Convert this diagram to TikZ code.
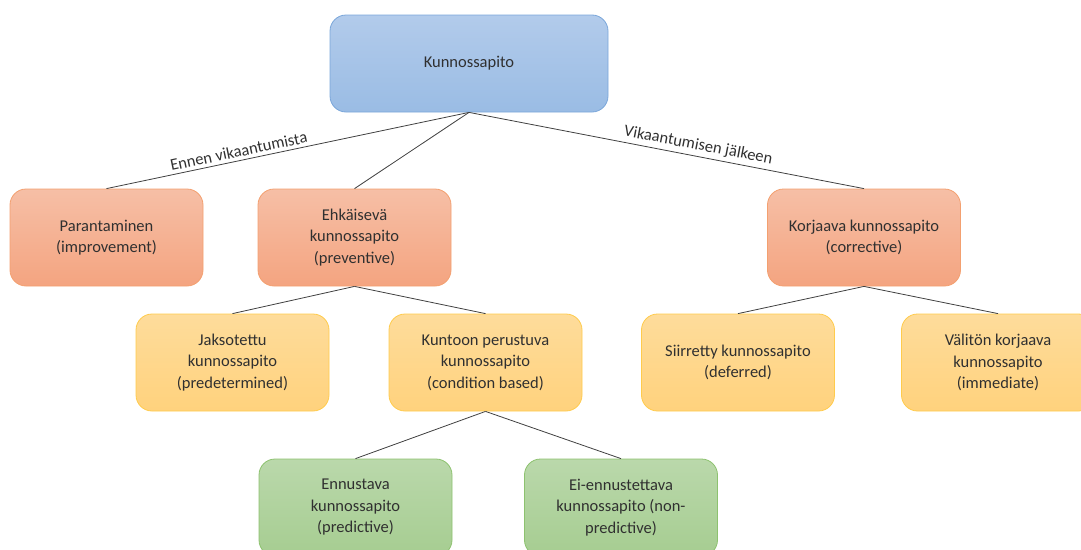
\documentclass[tikz,border=0pt]{standalone}
\usepackage{fontspec}
\setmainfont{Carlito}
\begin{document}
\definecolor{txt}{HTML}{303030}
\definecolor{lnc}{HTML}{404040}
\definecolor{blueT}{HTML}{B2CBEB}\definecolor{blueB}{HTML}{9ABCE4}\definecolor{blueD}{HTML}{7AA6DA}
\definecolor{oraT}{HTML}{F6BFA6}\definecolor{oraB}{HTML}{F4A480}\definecolor{oraD}{HTML}{F3A070}
\definecolor{yelT}{HTML}{FEDC9B}\definecolor{yelB}{HTML}{FFD27D}\definecolor{yelD}{HTML}{FFCB4C}
\definecolor{grnT}{HTML}{BAD8AB}\definecolor{grnB}{HTML}{A6CD91}\definecolor{grnD}{HTML}{8DC26F}
\begin{tikzpicture}[x=1pt,y=-1pt,
  every node/.style={font=\fontsize{16.5}{21.5}\selectfont, text=txt},
  box/.style={rounded corners=16pt, minimum width=193pt, minimum height=97pt,
    align=center, line width=0.8pt, inner sep=0pt},
  bluebox/.style={box, top color=blueT, bottom color=blueB, draw=blueD},
  orabox/.style={box, top color=oraT, bottom color=oraB, draw=oraD},
  yelbox/.style={box, top color=yelT, bottom color=yelB, draw=yelD},
  grnbox/.style={box, top color=grnT, bottom color=grnB, draw=grnD},
  conn/.style={draw=lnc, line width=0.8pt}]
\useasboundingbox (0,0) rectangle (1081,549);
\clip (0,0) rectangle (1081,549);

\node[bluebox, minimum width=278pt] (top) at (469,63.5) {Kunnossapito};

\node[orabox] (par) at (106.5,237.5) {Parantaminen\\(improvement)};
\node[orabox] (ehk) at (354.5,237.5) {Ehkäisevä\\kunnossapito\\(preventive)};
\node[orabox] (kor) at (864,237.5) {Korjaava kunnossapito\\(corrective)};

\node[yelbox] (jak) at (232.5,362.5) {Jaksotettu\\kunnossapito\\(predetermined)};
\node[yelbox] (kun) at (485.5,362.5) {Kuntoon perustuva\\kunnossapito\\(condition based)};
\node[yelbox] (sii) at (738,362.5) {Siirretty kunnossapito\\(deferred)};
\node[yelbox] (val) at (998,362.5) {Välitön korjaava\\kunnossapito\\(immediate)};

\node[grnbox] (enn) at (355.5,507.5) {Ennustava\\kunnossapito\\(predictive)};
\node[grnbox] (eie) at (621,507.5) {Ei-ennustettava\\kunnossapito (non-\\predictive)};

\path[conn] (par.north) -- node[sloped, above, pos=0.37] {Ennen vikaantumista} (top.south);
\path[conn] (top.south) -- (ehk.north);
\path[conn] (top.south) -- node[sloped, above, pos=0.575] {Vikaantumisen jälkeen} (kor.north);

\path[conn] (ehk.south) -- (jak.north);
\path[conn] (ehk.south) -- (kun.north);
\path[conn] (kor.south) -- (sii.north);
\path[conn] (kor.south) -- (val.north);
\path[conn] (kun.south) -- (enn.north);
\path[conn] (kun.south) -- (eie.north);
\end{tikzpicture}
\end{document}
